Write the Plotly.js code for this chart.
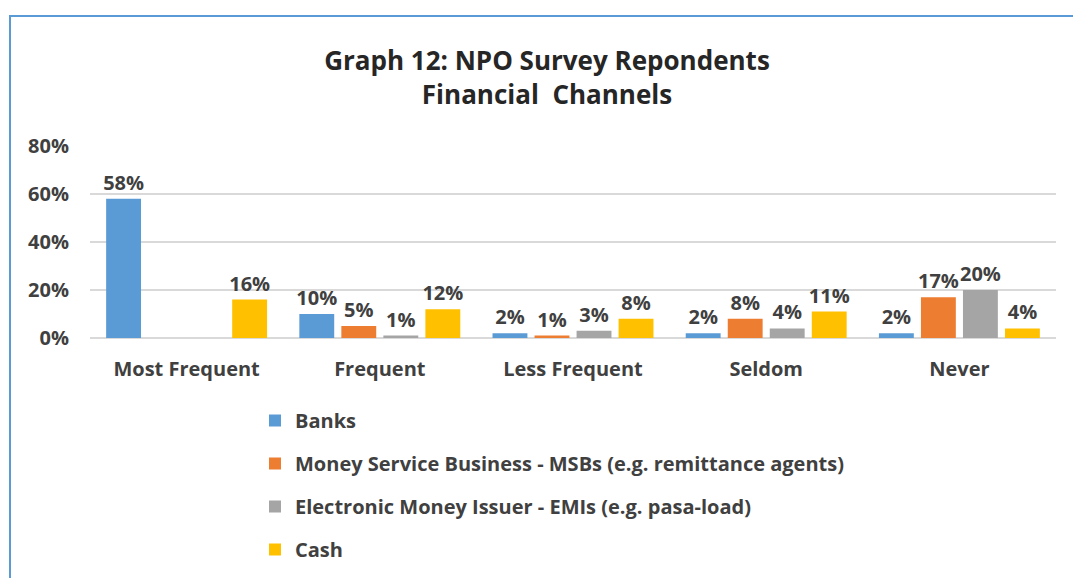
<!DOCTYPE html>
<html>
<head>
<meta charset="utf-8">
<script src="https://cdn.plot.ly/plotly-3.0.1.min.js"></script>
<style>
  html, body { margin: 0; padding: 0; background: #ffffff; }
  #wrap { position: relative; width: 1073px; height: 578px; overflow: hidden; }
  #frame { position: absolute; left: 9px; top: 15px; width: 1100px; height: 600px;
           border-left: 2px solid #5B9BD5; border-top: 2px solid #5B9BD5; box-sizing: border-box; }
  #chart { position: absolute; left: 0; top: 0; width: 1073px; height: 578px; }
</style>
</head>
<body>
<div id="wrap">
  <div id="frame"></div>
  <div id="chart"></div>
</div>
<script>
const categories = ["Most Frequent", "Frequent", "Less Frequent", "Seldom", "Never"];
const seriesNames = [
  "Banks",
  "Money Service Business - MSBs (e.g. remittance agents)",
  "Electronic Money Issuer - EMIs (e.g. pasa-load)",
  "Cash"
];
const banks = [0.58, 0.10, 0.02, 0.02, 0.02];
const msbs  = [null, 0.05, 0.01, 0.08, 0.17];
const emis  = [null, 0.01, 0.03, 0.04, 0.20];
const cash  = [0.16, 0.12, 0.08, 0.11, 0.04];
const colors = ["#5B9BD5", "#ED7D31", "#A5A5A5", "#FFC000"];
const yTickVals = [0, 0.2, 0.4, 0.6, 0.8];
const yTickText = ["0%", "20%", "40%", "60%", "80%"];

const FONT = "Open Sans, Noto Sans, sans-serif";
const values = [banks, msbs, emis, cash];

const traces = values.map((v, i) => ({
  type: "bar",
  name: seriesNames[i],
  x: categories,
  y: v,
  marker: { color: colors[i] },
  texttemplate: "%{y:.0%}",
  textposition: "outside",
  constraintext: "none",
  cliponaxis: false,
  textfont: { family: FONT, size: 20, color: "#404040", weight: "bold" },
  legendgroup: "g" + i,
  hoverinfo: "skip"
}));

const layout = {
  width: 1073,
  height: 578,
  paper_bgcolor: "rgba(0,0,0,0)",
  plot_bgcolor: "rgba(0,0,0,0)",
  margin: { l: 90, r: 17, t: 146, b: 240, autoexpand: false },
  font: { family: FONT, color: "#404040" },
  title: {
    text: "Graph 12: NPO Survey Repondents<br>Financial  Channels",
    font: { family: FONT, size: 26, color: "#262626", weight: "bold" },
    x: 547 / 1073,
    xanchor: "center",
    xref: "container",
    y: 1 - 70 / 578,
    yanchor: "middle",
    yref: "container"
  },
  bargap: 0.13,
  bargroupgap: 0.17,
  xaxis: {
    type: "category",
    showgrid: false,
    showline: false,
    ticks: "",
    ticklabelstandoff: 17,
    tickfont: { family: FONT, size: 20, color: "#404040", weight: "bold" },
    zeroline: false
  },
  yaxis: {
    range: [0, 0.8],
    tickvals: yTickVals,
    ticktext: yTickText,
    showgrid: true,
    gridcolor: "#D9D9D9",
    gridwidth: 2,
    zeroline: true,
    zerolinecolor: "#D9D9D9",
    zerolinewidth: 2,
    showline: false,
    ticks: "",
    ticklabelstandoff: 20,
    tickfont: { family: FONT, size: 20, color: "#404040", weight: "bold" }
  },
  showlegend: true,
  legend: {
    orientation: "v",
    x: (255 - 90) / 966,
    xanchor: "left",
    y: (338 - 401) / 192,
    yanchor: "top",
    tracegroupgap: 14,
    font: { family: FONT, size: 20, color: "#404040", weight: "bold" },
    bgcolor: "rgba(0,0,0,0)"
  }
};

Plotly.newPlot("chart", traces, layout, { displayModeBar: false, staticPlot: true });
</script>
</body>
</html>
